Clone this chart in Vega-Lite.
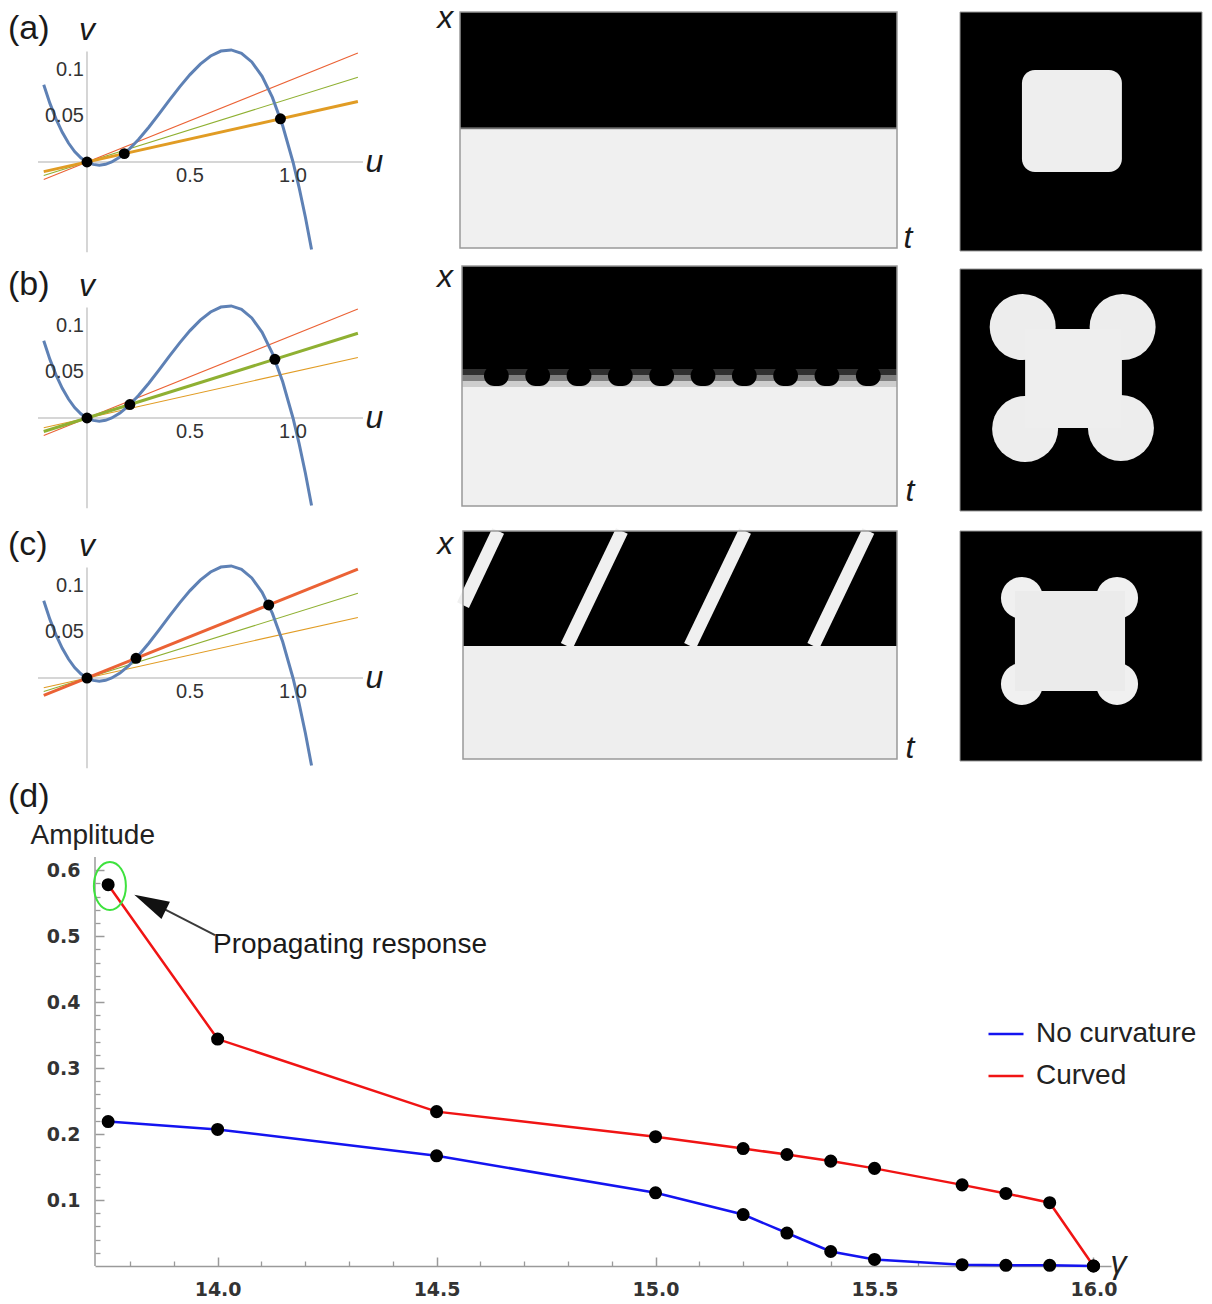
{
"$schema": "https://vega.github.io/schema/vega-lite/v6.json",
"background": "white",
"padding": 0,
"config": {"view": {"stroke": null}, "font": "Liberation Sans"},
"datasets": {
"phaseAxes": [{"u":0,"v":0.12,"u2":0,"v2":-0.098},{"u":-0.238,"v":0,"u2":1.34,"v2":0}],
"nullcline": [{"u":-0.21,"v":0.0839},{"u":-0.18,"v":0.0637},{"u":-0.15,"v":0.0466},{"u":-0.12,"v":0.0323},{"u":-0.09,"v":0.0206},{"u":-0.06,"v":0.0114},{"u":-0.03,"v":0.0046},{"u":0,"v":0},{"u":0.03,"v":-0.0026},{"u":0.06,"v":-0.0034},{"u":0.09,"v":-0.0025},{"u":0.12,"v":0},{"u":0.16,"v":0.0054},{"u":0.2,"v":0.0128},{"u":0.25,"v":0.0244},{"u":0.3,"v":0.0378},{"u":0.35,"v":0.0523},{"u":0.4,"v":0.0672},{"u":0.45,"v":0.0817},{"u":0.5,"v":0.095},{"u":0.55,"v":0.1064},{"u":0.6,"v":0.1152},{"u":0.65,"v":0.1206},{"u":0.7,"v":0.1218},{"u":0.75,"v":0.1181},{"u":0.8,"v":0.1088},{"u":0.85,"v":0.0931},{"u":0.9,"v":0.0702},{"u":0.95,"v":0.0394},{"u":1.0,"v":0},{"u":1.03,"v":-0.0281},{"u":1.06,"v":-0.0598},{"u":1.09,"v":-0.0952}],
"slopes": [
{"panel":"a","line":"low","role":"main","u":-0.21,"v":-0.0105},{"panel":"a","line":"low","role":"main","u":1.315,"v":0.0658},
{"panel":"a","line":"mid","role":"other","u":-0.21,"v":-0.0147},{"panel":"a","line":"mid","role":"other","u":1.315,"v":0.0921},
{"panel":"a","line":"high","role":"other","u":-0.21,"v":-0.0189},{"panel":"a","line":"high","role":"other","u":1.315,"v":0.1184},
{"panel":"b","line":"low","role":"other","u":-0.21,"v":-0.0105},{"panel":"b","line":"low","role":"other","u":1.315,"v":0.0658},
{"panel":"b","line":"mid","role":"main","u":-0.21,"v":-0.0147},{"panel":"b","line":"mid","role":"main","u":1.315,"v":0.0921},
{"panel":"b","line":"high","role":"other","u":-0.21,"v":-0.0189},{"panel":"b","line":"high","role":"other","u":1.315,"v":0.1184},
{"panel":"c","line":"low","role":"other","u":-0.21,"v":-0.0105},{"panel":"c","line":"low","role":"other","u":1.315,"v":0.0658},
{"panel":"c","line":"mid","role":"other","u":-0.21,"v":-0.0147},{"panel":"c","line":"mid","role":"other","u":1.315,"v":0.0921},
{"panel":"c","line":"high","role":"main","u":-0.21,"v":-0.0189},{"panel":"c","line":"high","role":"main","u":1.315,"v":0.1184}],
"fixedPts": [{"panel":"a","u":0,"v":0},{"panel":"a","u":0.181,"v":0.0091},{"panel":"a","u":0.939,"v":0.047},{"panel":"b","u":0,"v":0},{"panel":"b","u":0.208,"v":0.0146},{"panel":"b","u":0.912,"v":0.0638},{"panel":"c","u":0,"v":0},{"panel":"c","u":0.238,"v":0.0214},{"panel":"c","u":0.882,"v":0.0794}],
"phaseText": [
{"panel":"a","kind":"tag","label":"(a)","u":-0.3835,"v":0.145},{"panel":"a","kind":"var","label":"v","u":0.0,"v":0.1435},{"panel":"a","kind":"var","label":"u","u":1.395,"v":0.0},{"panel":"a","kind":"ticku","label":"0.5","u":0.5,"v":-0.0155},{"panel":"a","kind":"ticku","label":"1.0","u":1.0,"v":-0.0155},{"panel":"a","kind":"tickv","label":"0.1","u":-0.015,"v":0.1},{"panel":"a","kind":"tickv","label":"0.05","u":-0.015,"v":0.05},
{"panel":"b","kind":"tag","label":"(b)","u":-0.3835,"v":0.145},{"panel":"b","kind":"var","label":"v","u":0.0,"v":0.1435},{"panel":"b","kind":"var","label":"u","u":1.395,"v":0.0},{"panel":"b","kind":"ticku","label":"0.5","u":0.5,"v":-0.0155},{"panel":"b","kind":"ticku","label":"1.0","u":1.0,"v":-0.0155},{"panel":"b","kind":"tickv","label":"0.1","u":-0.015,"v":0.1},{"panel":"b","kind":"tickv","label":"0.05","u":-0.015,"v":0.05},
{"panel":"c","kind":"tag","label":"(c)","u":-0.3835,"v":0.145},{"panel":"c","kind":"var","label":"v","u":0.0,"v":0.1435},{"panel":"c","kind":"var","label":"u","u":1.395,"v":0.0},{"panel":"c","kind":"ticku","label":"0.5","u":0.5,"v":-0.0155},{"panel":"c","kind":"ticku","label":"1.0","u":1.0,"v":-0.0155},{"panel":"c","kind":"tickv","label":"0.1","u":-0.015,"v":0.1},{"panel":"c","kind":"tickv","label":"0.05","u":-0.015,"v":0.05}],
"kymoRects": [
{"panel":"a","x0":0,"x1":100,"y0":51.0,"y1":100,"val":0},{"panel":"a","x0":0,"x1":100,"y0":50.2,"y1":51.0,"val":0.5},{"panel":"a","x0":0,"x1":100,"y0":0,"y1":50.2,"val":0.98},
{"panel":"b","x0":0,"x1":100,"y0":57.1,"y1":100,"val":0},{"panel":"b","x0":0,"x1":100,"y0":54.6,"y1":57.1,"val":0.2},{"panel":"b","x0":0,"x1":100,"y0":52.1,"y1":54.6,"val":0.55},{"panel":"b","x0":0,"x1":100,"y0":49.6,"y1":52.1,"val":0.85},{"panel":"b","x0":0,"x1":100,"y0":0,"y1":49.6,"val":0.98},
{"panel":"c","x0":0,"x1":100,"y0":49.6,"y1":100,"val":0},{"panel":"c","x0":0,"x1":100,"y0":0,"y1":49.6,"val":0.97}],
"kymoBumps": [{"x0":5.05,"x1":10.75},{"x0":14.55,"x1":20.25},{"x0":24.05,"x1":29.75},{"x0":33.55,"x1":39.25},{"x0":43.05,"x1":48.75},{"x0":52.55,"x1":58.25},{"x0":62.05,"x1":67.75},{"x0":71.55,"x1":77.25},{"x0":81.05,"x1":86.75},{"x0":90.55,"x1":96.25}],
"kymoStripes": [{"stripe":1,"xc":0,"yc":67.5},{"stripe":1,"xc":8.1,"yc":100},{"stripe":2,"xc":23.9,"yc":49.6},{"stripe":2,"xc":36.6,"yc":100},{"stripe":3,"xc":52.3,"yc":49.6},{"stripe":3,"xc":65.0,"yc":100},{"stripe":4,"xc":80.7,"yc":49.6},{"stripe":4,"xc":93.4,"yc":100}],
"kymoText": [{"panel":"a","label":"x","xc":-3.4,"yc":97.5},{"panel":"a","label":"t","xc":102.5,"yc":4.2},{"panel":"b","label":"x","xc":-3.9,"yc":95.5},{"panel":"b","label":"t","xc":103,"yc":6.3},{"panel":"c","label":"x","xc":-4.1,"yc":94.5},{"panel":"c","label":"t","xc":103,"yc":5.0}],
"frame": [{"x0":0,"x1":100,"y0":0,"y1":100}],
"sqRects": [
{"panel":"a","kind":"bg","x0":0,"x1":100,"y0":0,"y1":100,"val":0},{"panel":"a","kind":"rounded","x0":25.6,"x1":66.9,"y0":33.1,"y1":75.7,"val":0.97},
{"panel":"b","kind":"bg","x0":0,"x1":100,"y0":0,"y1":100,"val":0},{"panel":"b","kind":"core","x0":26.9,"x1":66.9,"y0":34.3,"y1":75.2,"val":0.97},
{"panel":"c","kind":"bg","x0":0,"x1":100,"y0":0,"y1":100,"val":0},{"panel":"c","kind":"core","x0":22.7,"x1":68.2,"y0":30.4,"y1":73.9,"val":0.96}],
"sqLobes": [{"panel":"b","xc":25.9,"yc":76.0},{"panel":"b","xc":67.2,"yc":76.0},{"panel":"b","xc":26.9,"yc":33.9},{"panel":"b","xc":66.5,"yc":34.3},{"panel":"c","xc":25.6,"yc":70.9},{"panel":"c","xc":64.9,"yc":70.9},{"panel":"c","xc":25.6,"yc":33.5},{"panel":"c","xc":64.9,"yc":33.5}],
"amp": [
{"series":"Curved","gamma":13.75,"amp":0.578},{"series":"Curved","gamma":14.0,"amp":0.344},{"series":"Curved","gamma":14.5,"amp":0.234},{"series":"Curved","gamma":15.0,"amp":0.196},{"series":"Curved","gamma":15.2,"amp":0.178},{"series":"Curved","gamma":15.3,"amp":0.169},{"series":"Curved","gamma":15.4,"amp":0.159},{"series":"Curved","gamma":15.5,"amp":0.148},{"series":"Curved","gamma":15.7,"amp":0.123},{"series":"Curved","gamma":15.8,"amp":0.110},{"series":"Curved","gamma":15.9,"amp":0.096},{"series":"Curved","gamma":16.0,"amp":0.0},
{"series":"No curvature","gamma":13.75,"amp":0.219},{"series":"No curvature","gamma":14.0,"amp":0.207},{"series":"No curvature","gamma":14.5,"amp":0.167},{"series":"No curvature","gamma":15.0,"amp":0.111},{"series":"No curvature","gamma":15.2,"amp":0.078},{"series":"No curvature","gamma":15.3,"amp":0.050},{"series":"No curvature","gamma":15.4,"amp":0.022},{"series":"No curvature","gamma":15.5,"amp":0.010},{"series":"No curvature","gamma":15.7,"amp":0.002},{"series":"No curvature","gamma":15.8,"amp":0.001},{"series":"No curvature","gamma":15.9,"amp":0.001},{"series":"No curvature","gamma":16.0,"amp":0.0}],
"yAxisLine": [{"gamma":13.72,"amp":0,"amp2":0.62}],
"annot": [{"gamma":13.9895,"amp":0.4866,"label":"Propagating response"}],
"arrowShaft": [{"gamma":13.875,"amp":0.542,"gamma2":13.994,"amp2":0.5016}],
"arrowHead": [{"gamma":13.8456,"amp":0.551}],
"highlight": [{"gamma":13.754,"amp":0.576}],
"panelTag": [{"gamma":13.5214,"amp":0.711,"label":"(d)"}]
},
"spacing": 0,
"resolve": {"scale": {"color": "independent"}, "legend": {"color": "independent"}},
"vconcat": [
 {"spacing": 0, "bounds": "flush", "hconcat": [
  {"width": 430, "height": 255, "layer": [
   {"data":{"name":"phaseAxes"},"mark":{"type":"rule","color":"#c8c8c8","strokeWidth":1.5},"encoding":{"x":{"field":"u","type":"quantitative","scale":{"domain":[-0.42233,1.66505],"nice":false},"axis":null},"y":{"field":"v","type":"quantitative","scale":{"domain":[-0.10109,0.17609],"nice":false},"axis":null},"x2":{"field":"u2"},"y2":{"field":"v2"}}},
   {"data":{"name":"slopes"},"transform":[{"filter":"datum.panel === 'a' && datum.role === 'other'"}],"mark":{"type":"line","strokeWidth":1.1},"encoding":{"x":{"field":"u","type":"quantitative","scale":{"domain":[-0.42233,1.66505],"nice":false},"axis":null},"y":{"field":"v","type":"quantitative","scale":{"domain":[-0.10109,0.17609],"nice":false},"axis":null},"stroke":{"field":"line","type":"nominal","scale":{"domain":["low","mid","high"],"range":["#e19c24","#8fb032","#eb6235"]},"legend":null}}},
   {"data":{"name":"slopes"},"transform":[{"filter":"datum.panel === 'a' && datum.role === 'main'"}],"mark":{"type":"line","strokeWidth":3},"encoding":{"x":{"field":"u","type":"quantitative","scale":{"domain":[-0.42233,1.66505],"nice":false},"axis":null},"y":{"field":"v","type":"quantitative","scale":{"domain":[-0.10109,0.17609],"nice":false},"axis":null},"stroke":{"field":"line","type":"nominal","scale":{"domain":["low","mid","high"],"range":["#e19c24","#8fb032","#eb6235"]},"legend":null}}},
   {"data":{"name":"nullcline"},"mark":{"type":"line","color":"#5e81b5","strokeWidth":3},"encoding":{"x":{"field":"u","type":"quantitative","scale":{"domain":[-0.42233,1.66505],"nice":false},"axis":null},"y":{"field":"v","type":"quantitative","scale":{"domain":[-0.10109,0.17609],"nice":false},"axis":null}}},
   {"data":{"name":"fixedPts"},"transform":[{"filter":"datum.panel === 'a'"}],"mark":{"type":"point","filled":true,"color":"#000000","opacity":1,"size":120},"encoding":{"x":{"field":"u","type":"quantitative","scale":{"domain":[-0.42233,1.66505],"nice":false},"axis":null},"y":{"field":"v","type":"quantitative","scale":{"domain":[-0.10109,0.17609],"nice":false},"axis":null}}},
   {"data":{"name":"phaseText"},"transform":[{"filter":"datum.panel === 'a' && datum.kind === 'tag'"}],"mark":{"type":"text","fontSize":34,"align":"left","baseline":"middle","color":"#1a1a1a"},"encoding":{"x":{"field":"u","type":"quantitative","scale":{"domain":[-0.42233,1.66505],"nice":false},"axis":null},"y":{"field":"v","type":"quantitative","scale":{"domain":[-0.10109,0.17609],"nice":false},"axis":null},"text":{"field":"label"}}},
   {"data":{"name":"phaseText"},"transform":[{"filter":"datum.panel === 'a' && datum.kind === 'var'"}],"mark":{"type":"text","fontSize":32,"fontStyle":"italic","align":"center","baseline":"middle","color":"#1a1a1a"},"encoding":{"x":{"field":"u","type":"quantitative","scale":{"domain":[-0.42233,1.66505],"nice":false},"axis":null},"y":{"field":"v","type":"quantitative","scale":{"domain":[-0.10109,0.17609],"nice":false},"axis":null},"text":{"field":"label"}}},
   {"data":{"name":"phaseText"},"transform":[{"filter":"datum.panel === 'a' && datum.kind === 'ticku'"}],"mark":{"type":"text","fontSize":20,"align":"center","baseline":"middle","color":"#333333"},"encoding":{"x":{"field":"u","type":"quantitative","scale":{"domain":[-0.42233,1.66505],"nice":false},"axis":null},"y":{"field":"v","type":"quantitative","scale":{"domain":[-0.10109,0.17609],"nice":false},"axis":null},"text":{"field":"label"}}},
   {"data":{"name":"phaseText"},"transform":[{"filter":"datum.panel === 'a' && datum.kind === 'tickv'"}],"mark":{"type":"text","fontSize":20,"align":"right","baseline":"middle","color":"#333333"},"encoding":{"x":{"field":"u","type":"quantitative","scale":{"domain":[-0.42233,1.66505],"nice":false},"axis":null},"y":{"field":"v","type":"quantitative","scale":{"domain":[-0.10109,0.17609],"nice":false},"axis":null},"text":{"field":"label"}}}
  ]},
  {"width": 500, "height": 255, "layer": [
   {"data":{"name":"kymoRects"},"transform":[{"filter":"datum.panel === 'a'"}],"mark":{"type":"rect","strokeWidth":0},"encoding":{"x":{"field":"x0","type":"quantitative","scale":{"domain":[-6.865,107.551],"nice":false},"axis":null},"x2":{"field":"x1"},"y":{"field":"y0","type":"quantitative","scale":{"domain":[-2.966,105.085],"nice":false},"axis":null},"y2":{"field":"y1"},"fill":{"field":"val","type":"quantitative","scale":{"domain":[0,1],"range":["#000000","#f6f6f6"]},"legend":null}}},
   {"data":{"name":"frame"},"mark":{"type":"rect","filled":false,"stroke":"#999999","strokeWidth":1.5},"encoding":{"x":{"field":"x0","type":"quantitative","scale":{"domain":[-6.865,107.551],"nice":false},"axis":null},"x2":{"field":"x1"},"y":{"field":"y0","type":"quantitative","scale":{"domain":[-2.966,105.085],"nice":false},"axis":null},"y2":{"field":"y1"}}},
   {"data":{"name":"kymoText"},"transform":[{"filter":"datum.panel === 'a'"}],"mark":{"type":"text","fontSize":32,"fontStyle":"italic","align":"center","baseline":"middle","color":"#1a1a1a"},"encoding":{"x":{"field":"xc","type":"quantitative","scale":{"domain":[-6.865,107.551],"nice":false},"axis":null},"y":{"field":"yc","type":"quantitative","scale":{"domain":[-2.966,105.085],"nice":false},"axis":null},"text":{"field":"label"}}}
  ]},
  {"width": 282, "height": 255, "layer": [
   {"data":{"name":"sqRects"},"transform":[{"filter":"datum.panel === 'a' && datum.kind === 'bg'"}],"mark":{"type":"rect","strokeWidth":0},"encoding":{"x":{"field":"x0","type":"quantitative","scale":{"domain":[-12.397,104.132],"nice":false},"axis":null},"x2":{"field":"x1"},"y":{"field":"y0","type":"quantitative","scale":{"domain":[-1.674,105.021],"nice":false},"axis":null},"y2":{"field":"y1"},"fill":{"field":"val","type":"quantitative","scale":{"domain":[0,1],"range":["#000000","#f6f6f6"]},"legend":null}}},
   {"data":{"name":"sqRects"},"transform":[{"filter":"datum.panel === 'a' && datum.kind === 'rounded'"}],"mark":{"type":"rect","strokeWidth":0,"cornerRadius":13},"encoding":{"x":{"field":"x0","type":"quantitative","scale":{"domain":[-12.397,104.132],"nice":false},"axis":null},"x2":{"field":"x1"},"y":{"field":"y0","type":"quantitative","scale":{"domain":[-1.674,105.021],"nice":false},"axis":null},"y2":{"field":"y1"},"fill":{"field":"val","type":"quantitative","scale":{"domain":[0,1],"range":["#000000","#f6f6f6"]},"legend":null}}},
   {"data":{"name":"frame"},"mark":{"type":"rect","filled":false,"stroke":"#999999","strokeWidth":1},"encoding":{"x":{"field":"x0","type":"quantitative","scale":{"domain":[-12.397,104.132],"nice":false},"axis":null},"x2":{"field":"x1"},"y":{"field":"y0","type":"quantitative","scale":{"domain":[-1.674,105.021],"nice":false},"axis":null},"y2":{"field":"y1"}}}
  ]}
 ]},
 {"spacing": 0, "bounds": "flush", "hconcat": [
  {"width": 430, "height": 260, "layer": [
   {"data":{"name":"phaseAxes"},"mark":{"type":"rule","color":"#c8c8c8","strokeWidth":1.5},"encoding":{"x":{"field":"u","type":"quantitative","scale":{"domain":[-0.42233,1.66505],"nice":false},"axis":null},"y":{"field":"v","type":"quantitative","scale":{"domain":[-0.10652,0.17609],"nice":false},"axis":null},"x2":{"field":"u2"},"y2":{"field":"v2"}}},
   {"data":{"name":"slopes"},"transform":[{"filter":"datum.panel === 'b' && datum.role === 'other'"}],"mark":{"type":"line","strokeWidth":1.1},"encoding":{"x":{"field":"u","type":"quantitative","scale":{"domain":[-0.42233,1.66505],"nice":false},"axis":null},"y":{"field":"v","type":"quantitative","scale":{"domain":[-0.10652,0.17609],"nice":false},"axis":null},"stroke":{"field":"line","type":"nominal","scale":{"domain":["low","mid","high"],"range":["#e19c24","#8fb032","#eb6235"]},"legend":null}}},
   {"data":{"name":"slopes"},"transform":[{"filter":"datum.panel === 'b' && datum.role === 'main'"}],"mark":{"type":"line","strokeWidth":3},"encoding":{"x":{"field":"u","type":"quantitative","scale":{"domain":[-0.42233,1.66505],"nice":false},"axis":null},"y":{"field":"v","type":"quantitative","scale":{"domain":[-0.10652,0.17609],"nice":false},"axis":null},"stroke":{"field":"line","type":"nominal","scale":{"domain":["low","mid","high"],"range":["#e19c24","#8fb032","#eb6235"]},"legend":null}}},
   {"data":{"name":"nullcline"},"mark":{"type":"line","color":"#5e81b5","strokeWidth":3},"encoding":{"x":{"field":"u","type":"quantitative","scale":{"domain":[-0.42233,1.66505],"nice":false},"axis":null},"y":{"field":"v","type":"quantitative","scale":{"domain":[-0.10652,0.17609],"nice":false},"axis":null}}},
   {"data":{"name":"fixedPts"},"transform":[{"filter":"datum.panel === 'b'"}],"mark":{"type":"point","filled":true,"color":"#000000","opacity":1,"size":120},"encoding":{"x":{"field":"u","type":"quantitative","scale":{"domain":[-0.42233,1.66505],"nice":false},"axis":null},"y":{"field":"v","type":"quantitative","scale":{"domain":[-0.10652,0.17609],"nice":false},"axis":null}}},
   {"data":{"name":"phaseText"},"transform":[{"filter":"datum.panel === 'b' && datum.kind === 'tag'"}],"mark":{"type":"text","fontSize":34,"align":"left","baseline":"middle","color":"#1a1a1a"},"encoding":{"x":{"field":"u","type":"quantitative","scale":{"domain":[-0.42233,1.66505],"nice":false},"axis":null},"y":{"field":"v","type":"quantitative","scale":{"domain":[-0.10652,0.17609],"nice":false},"axis":null},"text":{"field":"label"}}},
   {"data":{"name":"phaseText"},"transform":[{"filter":"datum.panel === 'b' && datum.kind === 'var'"}],"mark":{"type":"text","fontSize":32,"fontStyle":"italic","align":"center","baseline":"middle","color":"#1a1a1a"},"encoding":{"x":{"field":"u","type":"quantitative","scale":{"domain":[-0.42233,1.66505],"nice":false},"axis":null},"y":{"field":"v","type":"quantitative","scale":{"domain":[-0.10652,0.17609],"nice":false},"axis":null},"text":{"field":"label"}}},
   {"data":{"name":"phaseText"},"transform":[{"filter":"datum.panel === 'b' && datum.kind === 'ticku'"}],"mark":{"type":"text","fontSize":20,"align":"center","baseline":"middle","color":"#333333"},"encoding":{"x":{"field":"u","type":"quantitative","scale":{"domain":[-0.42233,1.66505],"nice":false},"axis":null},"y":{"field":"v","type":"quantitative","scale":{"domain":[-0.10652,0.17609],"nice":false},"axis":null},"text":{"field":"label"}}},
   {"data":{"name":"phaseText"},"transform":[{"filter":"datum.panel === 'b' && datum.kind === 'tickv'"}],"mark":{"type":"text","fontSize":20,"align":"right","baseline":"middle","color":"#333333"},"encoding":{"x":{"field":"u","type":"quantitative","scale":{"domain":[-0.42233,1.66505],"nice":false},"axis":null},"y":{"field":"v","type":"quantitative","scale":{"domain":[-0.10652,0.17609],"nice":false},"axis":null},"text":{"field":"label"}}}
  ]},
  {"width": 500, "height": 260, "layer": [
   {"data":{"name":"kymoRects"},"transform":[{"filter":"datum.panel === 'b'"}],"mark":{"type":"rect","strokeWidth":0},"encoding":{"x":{"field":"x0","type":"quantitative","scale":{"domain":[-7.356,107.586],"nice":false},"axis":null},"x2":{"field":"x1"},"y":{"field":"y0","type":"quantitative","scale":{"domain":[-4.167,104.167],"nice":false},"axis":null},"y2":{"field":"y1"},"fill":{"field":"val","type":"quantitative","scale":{"domain":[0,1],"range":["#000000","#f6f6f6"]},"legend":null}}},
   {"data":{"name":"kymoBumps"},"mark":{"type":"rect","strokeWidth":0,"color":"#000000","cornerRadius":11},"encoding":{"x":{"field":"x0","type":"quantitative","scale":{"domain":[-7.356,107.586],"nice":false},"axis":null},"x2":{"field":"x1"},"y":{"datum":50.0,"type":"quantitative","scale":{"domain":[-4.167,104.167],"nice":false},"axis":null},"y2":{"datum":58.5}}},
   {"data":{"name":"frame"},"mark":{"type":"rect","filled":false,"stroke":"#999999","strokeWidth":1.5},"encoding":{"x":{"field":"x0","type":"quantitative","scale":{"domain":[-7.356,107.586],"nice":false},"axis":null},"x2":{"field":"x1"},"y":{"field":"y0","type":"quantitative","scale":{"domain":[-4.167,104.167],"nice":false},"axis":null},"y2":{"field":"y1"}}},
   {"data":{"name":"kymoText"},"transform":[{"filter":"datum.panel === 'b'"}],"mark":{"type":"text","fontSize":32,"fontStyle":"italic","align":"center","baseline":"middle","color":"#1a1a1a"},"encoding":{"x":{"field":"xc","type":"quantitative","scale":{"domain":[-7.356,107.586],"nice":false},"axis":null},"y":{"field":"yc","type":"quantitative","scale":{"domain":[-4.167,104.167],"nice":false},"axis":null},"text":{"field":"label"}}}
  ]},
  {"width": 282, "height": 260, "layer": [
   {"data":{"name":"sqRects"},"transform":[{"filter":"datum.panel === 'b' && datum.kind === 'bg'"}],"mark":{"type":"rect","strokeWidth":0},"encoding":{"x":{"field":"x0","type":"quantitative","scale":{"domain":[-12.397,104.132],"nice":false},"axis":null},"x2":{"field":"x1"},"y":{"field":"y0","type":"quantitative","scale":{"domain":[-2.066,105.372],"nice":false},"axis":null},"y2":{"field":"y1"},"fill":{"field":"val","type":"quantitative","scale":{"domain":[0,1],"range":["#000000","#f6f6f6"]},"legend":null}}},
   {"data":{"name":"sqLobes"},"transform":[{"filter":"datum.panel === 'b'"}],"mark":{"type":"point","filled":true,"color":"#ededed","opacity":1,"size":4356},"encoding":{"x":{"field":"xc","type":"quantitative","scale":{"domain":[-12.397,104.132],"nice":false},"axis":null},"y":{"field":"yc","type":"quantitative","scale":{"domain":[-2.066,105.372],"nice":false},"axis":null}}},
   {"data":{"name":"sqRects"},"transform":[{"filter":"datum.panel === 'b' && datum.kind === 'core'"}],"mark":{"type":"rect","strokeWidth":0},"encoding":{"x":{"field":"x0","type":"quantitative","scale":{"domain":[-12.397,104.132],"nice":false},"axis":null},"x2":{"field":"x1"},"y":{"field":"y0","type":"quantitative","scale":{"domain":[-2.066,105.372],"nice":false},"axis":null},"y2":{"field":"y1"},"fill":{"field":"val","type":"quantitative","scale":{"domain":[0,1],"range":["#000000","#f6f6f6"]},"legend":null}}},
   {"data":{"name":"frame"},"mark":{"type":"rect","filled":false,"stroke":"#999999","strokeWidth":1},"encoding":{"x":{"field":"x0","type":"quantitative","scale":{"domain":[-12.397,104.132],"nice":false},"axis":null},"x2":{"field":"x1"},"y":{"field":"y0","type":"quantitative","scale":{"domain":[-2.066,105.372],"nice":false},"axis":null},"y2":{"field":"y1"}}}
  ]}
 ]},
 {"spacing": 0, "bounds": "flush", "hconcat": [
  {"width": 430, "height": 263, "layer": [
   {"data":{"name":"phaseAxes"},"mark":{"type":"rule","color":"#c8c8c8","strokeWidth":1.5},"encoding":{"x":{"field":"u","type":"quantitative","scale":{"domain":[-0.42233,1.66505],"nice":false},"axis":null},"y":{"field":"v","type":"quantitative","scale":{"domain":[-0.10978,0.17609],"nice":false},"axis":null},"x2":{"field":"u2"},"y2":{"field":"v2"}}},
   {"data":{"name":"slopes"},"transform":[{"filter":"datum.panel === 'c' && datum.role === 'other'"}],"mark":{"type":"line","strokeWidth":1.1},"encoding":{"x":{"field":"u","type":"quantitative","scale":{"domain":[-0.42233,1.66505],"nice":false},"axis":null},"y":{"field":"v","type":"quantitative","scale":{"domain":[-0.10978,0.17609],"nice":false},"axis":null},"stroke":{"field":"line","type":"nominal","scale":{"domain":["low","mid","high"],"range":["#e19c24","#8fb032","#eb6235"]},"legend":null}}},
   {"data":{"name":"slopes"},"transform":[{"filter":"datum.panel === 'c' && datum.role === 'main'"}],"mark":{"type":"line","strokeWidth":3},"encoding":{"x":{"field":"u","type":"quantitative","scale":{"domain":[-0.42233,1.66505],"nice":false},"axis":null},"y":{"field":"v","type":"quantitative","scale":{"domain":[-0.10978,0.17609],"nice":false},"axis":null},"stroke":{"field":"line","type":"nominal","scale":{"domain":["low","mid","high"],"range":["#e19c24","#8fb032","#eb6235"]},"legend":null}}},
   {"data":{"name":"nullcline"},"mark":{"type":"line","color":"#5e81b5","strokeWidth":3},"encoding":{"x":{"field":"u","type":"quantitative","scale":{"domain":[-0.42233,1.66505],"nice":false},"axis":null},"y":{"field":"v","type":"quantitative","scale":{"domain":[-0.10978,0.17609],"nice":false},"axis":null}}},
   {"data":{"name":"fixedPts"},"transform":[{"filter":"datum.panel === 'c'"}],"mark":{"type":"point","filled":true,"color":"#000000","opacity":1,"size":120},"encoding":{"x":{"field":"u","type":"quantitative","scale":{"domain":[-0.42233,1.66505],"nice":false},"axis":null},"y":{"field":"v","type":"quantitative","scale":{"domain":[-0.10978,0.17609],"nice":false},"axis":null}}},
   {"data":{"name":"phaseText"},"transform":[{"filter":"datum.panel === 'c' && datum.kind === 'tag'"}],"mark":{"type":"text","fontSize":34,"align":"left","baseline":"middle","color":"#1a1a1a"},"encoding":{"x":{"field":"u","type":"quantitative","scale":{"domain":[-0.42233,1.66505],"nice":false},"axis":null},"y":{"field":"v","type":"quantitative","scale":{"domain":[-0.10978,0.17609],"nice":false},"axis":null},"text":{"field":"label"}}},
   {"data":{"name":"phaseText"},"transform":[{"filter":"datum.panel === 'c' && datum.kind === 'var'"}],"mark":{"type":"text","fontSize":32,"fontStyle":"italic","align":"center","baseline":"middle","color":"#1a1a1a"},"encoding":{"x":{"field":"u","type":"quantitative","scale":{"domain":[-0.42233,1.66505],"nice":false},"axis":null},"y":{"field":"v","type":"quantitative","scale":{"domain":[-0.10978,0.17609],"nice":false},"axis":null},"text":{"field":"label"}}},
   {"data":{"name":"phaseText"},"transform":[{"filter":"datum.panel === 'c' && datum.kind === 'ticku'"}],"mark":{"type":"text","fontSize":20,"align":"center","baseline":"middle","color":"#333333"},"encoding":{"x":{"field":"u","type":"quantitative","scale":{"domain":[-0.42233,1.66505],"nice":false},"axis":null},"y":{"field":"v","type":"quantitative","scale":{"domain":[-0.10978,0.17609],"nice":false},"axis":null},"text":{"field":"label"}}},
   {"data":{"name":"phaseText"},"transform":[{"filter":"datum.panel === 'c' && datum.kind === 'tickv'"}],"mark":{"type":"text","fontSize":20,"align":"right","baseline":"middle","color":"#333333"},"encoding":{"x":{"field":"u","type":"quantitative","scale":{"domain":[-0.42233,1.66505],"nice":false},"axis":null},"y":{"field":"v","type":"quantitative","scale":{"domain":[-0.10978,0.17609],"nice":false},"axis":null},"text":{"field":"label"}}}
  ]},
  {"width": 500, "height": 263, "layer": [
   {"data":{"name":"kymoRects"},"transform":[{"filter":"datum.panel === 'c'"}],"mark":{"type":"rect","strokeWidth":0},"encoding":{"x":{"field":"x0","type":"quantitative","scale":{"domain":[-7.604,107.604],"nice":false},"axis":null},"x2":{"field":"x1"},"y":{"field":"y0","type":"quantitative","scale":{"domain":[-8.772,106.579],"nice":false},"axis":null},"y2":{"field":"y1"},"fill":{"field":"val","type":"quantitative","scale":{"domain":[0,1],"range":["#000000","#f6f6f6"]},"legend":null}}},
   {"data":{"name":"kymoStripes"},"mark":{"type":"line","color":"#f0f0f0","strokeWidth":13,"strokeCap":"butt","strokeJoin":"round"},"encoding":{"x":{"field":"xc","type":"quantitative","scale":{"domain":[-7.604,107.604],"nice":false},"axis":null},"y":{"field":"yc","type":"quantitative","scale":{"domain":[-8.772,106.579],"nice":false},"axis":null},"detail":{"field":"stripe","type":"nominal"}}},
   {"data":{"name":"frame"},"mark":{"type":"rect","filled":false,"stroke":"#999999","strokeWidth":1.5},"encoding":{"x":{"field":"x0","type":"quantitative","scale":{"domain":[-7.604,107.604],"nice":false},"axis":null},"x2":{"field":"x1"},"y":{"field":"y0","type":"quantitative","scale":{"domain":[-8.772,106.579],"nice":false},"axis":null},"y2":{"field":"y1"}}},
   {"data":{"name":"kymoText"},"transform":[{"filter":"datum.panel === 'c'"}],"mark":{"type":"text","fontSize":32,"fontStyle":"italic","align":"center","baseline":"middle","color":"#1a1a1a"},"encoding":{"x":{"field":"xc","type":"quantitative","scale":{"domain":[-7.604,107.604],"nice":false},"axis":null},"y":{"field":"yc","type":"quantitative","scale":{"domain":[-8.772,106.579],"nice":false},"axis":null},"text":{"field":"label"}}}
  ]},
  {"width": 282, "height": 263, "layer": [
   {"data":{"name":"sqRects"},"transform":[{"filter":"datum.panel === 'c' && datum.kind === 'bg'"}],"mark":{"type":"rect","strokeWidth":0},"encoding":{"x":{"field":"x0","type":"quantitative","scale":{"domain":[-12.397,104.132],"nice":false},"axis":null},"x2":{"field":"x1"},"y":{"field":"y0","type":"quantitative","scale":{"domain":[-7.826,106.522],"nice":false},"axis":null},"y2":{"field":"y1"},"fill":{"field":"val","type":"quantitative","scale":{"domain":[0,1],"range":["#000000","#f6f6f6"]},"legend":null}}},
   {"data":{"name":"sqLobes"},"transform":[{"filter":"datum.panel === 'c'"}],"mark":{"type":"point","filled":true,"color":"#f0f0f0","opacity":1,"size":1764},"encoding":{"x":{"field":"xc","type":"quantitative","scale":{"domain":[-12.397,104.132],"nice":false},"axis":null},"y":{"field":"yc","type":"quantitative","scale":{"domain":[-7.826,106.522],"nice":false},"axis":null}}},
   {"data":{"name":"sqRects"},"transform":[{"filter":"datum.panel === 'c' && datum.kind === 'core'"}],"mark":{"type":"rect","strokeWidth":0},"encoding":{"x":{"field":"x0","type":"quantitative","scale":{"domain":[-12.397,104.132],"nice":false},"axis":null},"x2":{"field":"x1"},"y":{"field":"y0","type":"quantitative","scale":{"domain":[-7.826,106.522],"nice":false},"axis":null},"y2":{"field":"y1"},"fill":{"field":"val","type":"quantitative","scale":{"domain":[0,1],"range":["#000000","#f6f6f6"]},"legend":null}}},
   {"data":{"name":"frame"},"mark":{"type":"rect","filled":false,"stroke":"#999999","strokeWidth":1},"encoding":{"x":{"field":"x0","type":"quantitative","scale":{"domain":[-12.397,104.132],"nice":false},"axis":null},"x2":{"field":"x1"},"y":{"field":"y0","type":"quantitative","scale":{"domain":[-7.826,106.522],"nice":false},"axis":null},"y2":{"field":"y1"}}}
  ]}
 ]},
 {"spacing": 0, "bounds": "flush", "resolve": {"scale": {"color": "independent"}, "legend": {"color": "independent"}}, "hconcat": [
  {"width": 95, "height": 486, "data": {"values": [{"k": 1}]}, "mark": {"type": "point", "opacity": 0}, "encoding": {}},
  {"width": 1016, "height": 486,
   "resolve": {"axis": {"x": "independent", "y": "independent"}},
   "layer": [
    {"data":{"name":"yAxisLine"},"mark":{"type":"rule","color":"#9a9a9a","strokeWidth":1.5},"encoding":{"x":{"field":"gamma","type":"quantitative","scale":{"domain":[13.72,16.04],"nice":false,"zero":false},"axis":null},"y":{"field":"amp","type":"quantitative","scale":{"domain":[0,0.7367],"nice":false},"axis":null},"y2":{"field":"amp2"}}},
    {"data":{"name":"amp"},"mark":{"type":"line","strokeWidth":2.5},
     "encoding":{
      "x":{"field":"gamma","type":"quantitative","scale":{"domain":[13.72,16.04],"nice":false,"zero":false},"axis":{"orient":"bottom","values":[14,14.5,15,15.5,16],"format":".1f","ticks":false,"domain":true,"domainColor":"#9a9a9a","domainWidth":1.5,"labelFont":"DejaVu Sans","labelFontSize":19,"labelFontWeight":"bold","labelColor":"#333333","labelPadding":14,"labelFlush":false,"grid":false,"title":"γ","titleX":1023,"titleY":-4,"titleAlign":"center","titleBaseline":"middle","titleAngle":0,"titleFontSize":32,"titleFontStyle":"italic","titleFontWeight":"normal","titleColor":"#222222"}},
      "y":{"field":"amp","type":"quantitative","scale":{"domain":[0,0.7367],"nice":false},"axis":{"orient":"left","values":[0.1,0.2,0.3,0.4,0.5,0.6],"format":".1f","ticks":false,"domain":false,"labelFont":"DejaVu Sans","labelFontSize":19,"labelFontWeight":"bold","labelColor":"#333333","labelPadding":15,"labelFlush":false,"grid":false,"title":"Amplitude","titleX":-65,"titleY":55,"titleAngle":0,"titleAlign":"left","titleBaseline":"middle","titleFontSize":28,"titleFontWeight":"normal","titleColor":"#222222"}},
      "color":{"field":"series","type":"nominal","scale":{"domain":["No curvature","Curved"],"range":["#1414f0","#f01414"]},"legend":{"orient":"none","legendX":892,"legendY":235,"title":null,"symbolType":"stroke","symbolSize":1225,"symbolStrokeWidth":2.5,"labelFontSize":28,"labelColor":"#222222","labelOffset":11,"labelLimit":400,"rowPadding":9,"padding":0}}}},
    {"data":{"name":"amp"},"mark":{"type":"point","filled":true,"color":"#000000","opacity":1,"size":170},
     "encoding":{
      "x":{"field":"gamma","type":"quantitative","scale":{"domain":[13.72,16.04],"nice":false,"zero":false},"axis":{"orient":"bottom","values":[13.8,13.9,14.1,14.2,14.3,14.4,14.6,14.7,14.8,14.9,15.1,15.2,15.3,15.4,15.6,15.7,15.8,15.9],"labels":false,"domain":false,"ticks":true,"tickSize":-5,"tickColor":"#9a9a9a","tickWidth":1.3,"grid":false,"title":null}},
      "y":{"field":"amp","type":"quantitative","scale":{"domain":[0,0.7367],"nice":false},"axis":{"orient":"left","values":[0.02,0.04,0.06,0.08,0.12,0.14,0.16,0.18,0.22,0.24,0.26,0.28,0.32,0.34,0.36,0.38,0.42,0.44,0.46,0.48,0.52,0.54,0.56,0.58],"labels":false,"domain":false,"ticks":true,"tickSize":-5,"tickColor":"#9a9a9a","tickWidth":1.3,"grid":false,"title":null}}}},
    {"data":{"name":"annot"},"mark":{"type":"text","align":"left","baseline":"middle","fontSize":28,"color":"#1a1a1a"},
     "encoding":{
      "x":{"field":"gamma","type":"quantitative","scale":{"domain":[13.72,16.04],"nice":false,"zero":false},"axis":{"orient":"bottom","values":[14,14.5,15,15.5,16],"labels":false,"domain":false,"ticks":true,"tickSize":-9,"tickColor":"#9a9a9a","tickWidth":1.5,"grid":false,"title":null}},
      "y":{"field":"amp","type":"quantitative","scale":{"domain":[0,0.7367],"nice":false},"axis":{"orient":"left","values":[0.1,0.2,0.3,0.4,0.5,0.6],"labels":false,"domain":false,"ticks":true,"tickSize":-9,"tickColor":"#9a9a9a","tickWidth":1.5,"grid":false,"title":null}},
      "text":{"field":"label"}}},
    {"data":{"name":"arrowShaft"},"mark":{"type":"rule","color":"#3a3a3a","strokeWidth":2},"encoding":{"x":{"field":"gamma","type":"quantitative","scale":{"domain":[13.72,16.04],"nice":false,"zero":false},"axis":null},"y":{"field":"amp","type":"quantitative","scale":{"domain":[0,0.7367],"nice":false},"axis":null},"x2":{"field":"gamma2"},"y2":{"field":"amp2"}}},
    {"data":{"name":"arrowHead"},"mark":{"type":"point","shape":"M -1 0 L 1 -0.55 L 1 0.55 Z","filled":true,"color":"#111111","opacity":1,"size":1225,"angle":26.3},"encoding":{"x":{"field":"gamma","type":"quantitative","scale":{"domain":[13.72,16.04],"nice":false,"zero":false},"axis":null},"y":{"field":"amp","type":"quantitative","scale":{"domain":[0,0.7367],"nice":false},"axis":null}}},
    {"data":{"name":"highlight"},"mark":{"type":"point","shape":"M -0.667 0 A 0.667 1 0 1 0 0.667 0 A 0.667 1 0 1 0 -0.667 0 Z","filled":false,"color":"#3ee23e","strokeWidth":2,"opacity":1,"size":2304},"encoding":{"x":{"field":"gamma","type":"quantitative","scale":{"domain":[13.72,16.04],"nice":false,"zero":false},"axis":null},"y":{"field":"amp","type":"quantitative","scale":{"domain":[0,0.7367],"nice":false},"axis":null}}},
    {"data":{"name":"panelTag"},"mark":{"type":"text","align":"left","baseline":"middle","fontSize":34,"color":"#1a1a1a"},"encoding":{"x":{"field":"gamma","type":"quantitative","scale":{"domain":[13.72,16.04],"nice":false,"zero":false},"axis":null},"y":{"field":"amp","type":"quantitative","scale":{"domain":[0,0.7367],"nice":false},"axis":null},"text":{"field":"label"}}}
   ]}
 ]}
]
}
